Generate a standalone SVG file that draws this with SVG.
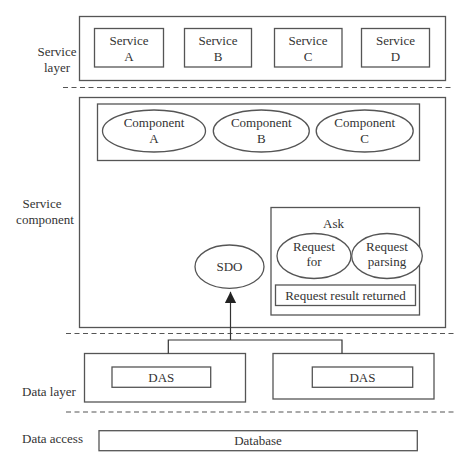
<svg xmlns="http://www.w3.org/2000/svg" width="474" height="468" viewBox="0 0 474 468">
<defs>
<style>
.b{fill:none;stroke:#555;stroke-width:1.3}
.e{fill:#fff;stroke:#555;stroke-width:1.3}
.d{fill:none;stroke:#555;stroke-width:1.2;stroke-dasharray:5,3.5}
.c{fill:none;stroke:#333;stroke-width:1.2}
text{font-family:"Liberation Serif","Times New Roman",serif;font-size:13px;fill:#333;text-anchor:middle}
.l{text-anchor:start}
</style>
<marker id="arr" markerWidth="12" markerHeight="12" refX="11.6" refY="6" orient="auto" markerUnits="userSpaceOnUse" viewBox="0 0 12 12">
<path d="M0,0.2 L11.6,6 L0,11.8 Z" fill="#222"/>
</marker>
</defs>
<rect width="474" height="468" fill="#fff"/>

<!-- layer labels -->
<g id="labels">
<text x="57" y="56">Service</text>
<text x="57" y="72">layer</text>
<text x="42" y="208">Service</text>
<text x="45" y="224">component</text>
<text class="l" x="22" y="396">Data layer</text>
<text class="l" x="22" y="443">Data access</text>
</g>

<!-- dashed separators -->
<g id="separators">
<line class="d" x1="63" y1="87.5" x2="453" y2="87.5"/>
<line class="d" x1="66" y1="333.5" x2="457" y2="333.5"/>
<line class="d" x1="66" y1="412" x2="457" y2="412"/>
</g>

<!-- service layer -->
<g id="service-layer"><rect class="b" x="79.5" y="16.5" width="366" height="64"/></g>
<g id="service-a"><rect class="b" x="94.5" y="28.5" width="69" height="38.5"/><text x="129" y="45">Service</text><text x="129" y="61">A</text></g>
<g id="service-b"><rect class="b" x="184.5" y="28.5" width="67" height="38.5"/><text x="218" y="45">Service</text><text x="218" y="61">B</text></g>
<g id="service-c"><rect class="b" x="274.5" y="28.5" width="67.5" height="38.5"/><text x="308" y="45">Service</text><text x="308" y="61">C</text></g>
<g id="service-d"><rect class="b" x="361.5" y="28.5" width="68" height="38.5"/><text x="395.5" y="45">Service</text><text x="395.5" y="61">D</text></g>

<!-- service component -->
<g id="service-component"><rect class="b" x="79.5" y="97.5" width="366" height="230"/></g>
<g id="component-group"><rect class="b" x="97.5" y="104" width="322" height="56.5"/></g>
<g id="component-a"><ellipse class="e" cx="154" cy="131" rx="51.5" ry="21"/><text x="154" y="127">Component</text><text x="154" y="143">A</text></g>
<g id="component-b"><ellipse class="e" cx="261.3" cy="131" rx="48" ry="21"/><text x="261.3" y="127">Component</text><text x="261.3" y="143">B</text></g>
<g id="component-c"><ellipse class="e" cx="364.7" cy="131" rx="48.5" ry="21"/><text x="364.7" y="127">Component</text><text x="364.7" y="143">C</text></g>

<g id="ask"><rect class="b" x="271" y="207.5" width="148.5" height="107.5"/><text x="333.5" y="228">Ask</text></g>
<g id="request-for"><ellipse class="e" cx="314" cy="256" rx="37" ry="22.5"/><text x="314" y="251">Request</text><text x="314" y="266">for</text></g>
<g id="request-parsing"><ellipse class="e" cx="387" cy="256" rx="35.3" ry="22.5"/><text x="387" y="251">Request</text><text x="387" y="266">parsing</text></g>
<g id="request-result"><rect class="b" x="275.5" y="285" width="140" height="20.5"/><text x="345.5" y="299.5">Request result returned</text></g>

<g id="sdo"><ellipse class="e" cx="229.5" cy="266.7" rx="34.5" ry="21.7"/><text x="229.5" y="271">SDO</text></g>

<!-- data layer -->
<g id="das-left"><rect class="b" x="84.5" y="353.5" width="161" height="48.5"/><rect class="b" x="112" y="367" width="98.7" height="20.3"/><text x="161.3" y="382">DAS</text></g>
<g id="das-right"><rect class="b" x="273" y="353.5" width="161" height="45.5"/><rect class="b" x="312.3" y="367" width="100.4" height="20.3"/><text x="362.5" y="382">DAS</text></g>

<!-- data access -->
<g id="database"><rect class="b" x="99" y="430.7" width="318.3" height="20"/><text x="258" y="445">Database</text></g>

<!-- connectors -->
<g id="connectors">
<polyline class="c" points="168.3,353.5 168.3,340 342,340 342,353.5"/>
<line class="c" x1="230.5" y1="340" x2="230.5" y2="291.8" marker-end="url(#arr)"/>
</g>
</svg>
